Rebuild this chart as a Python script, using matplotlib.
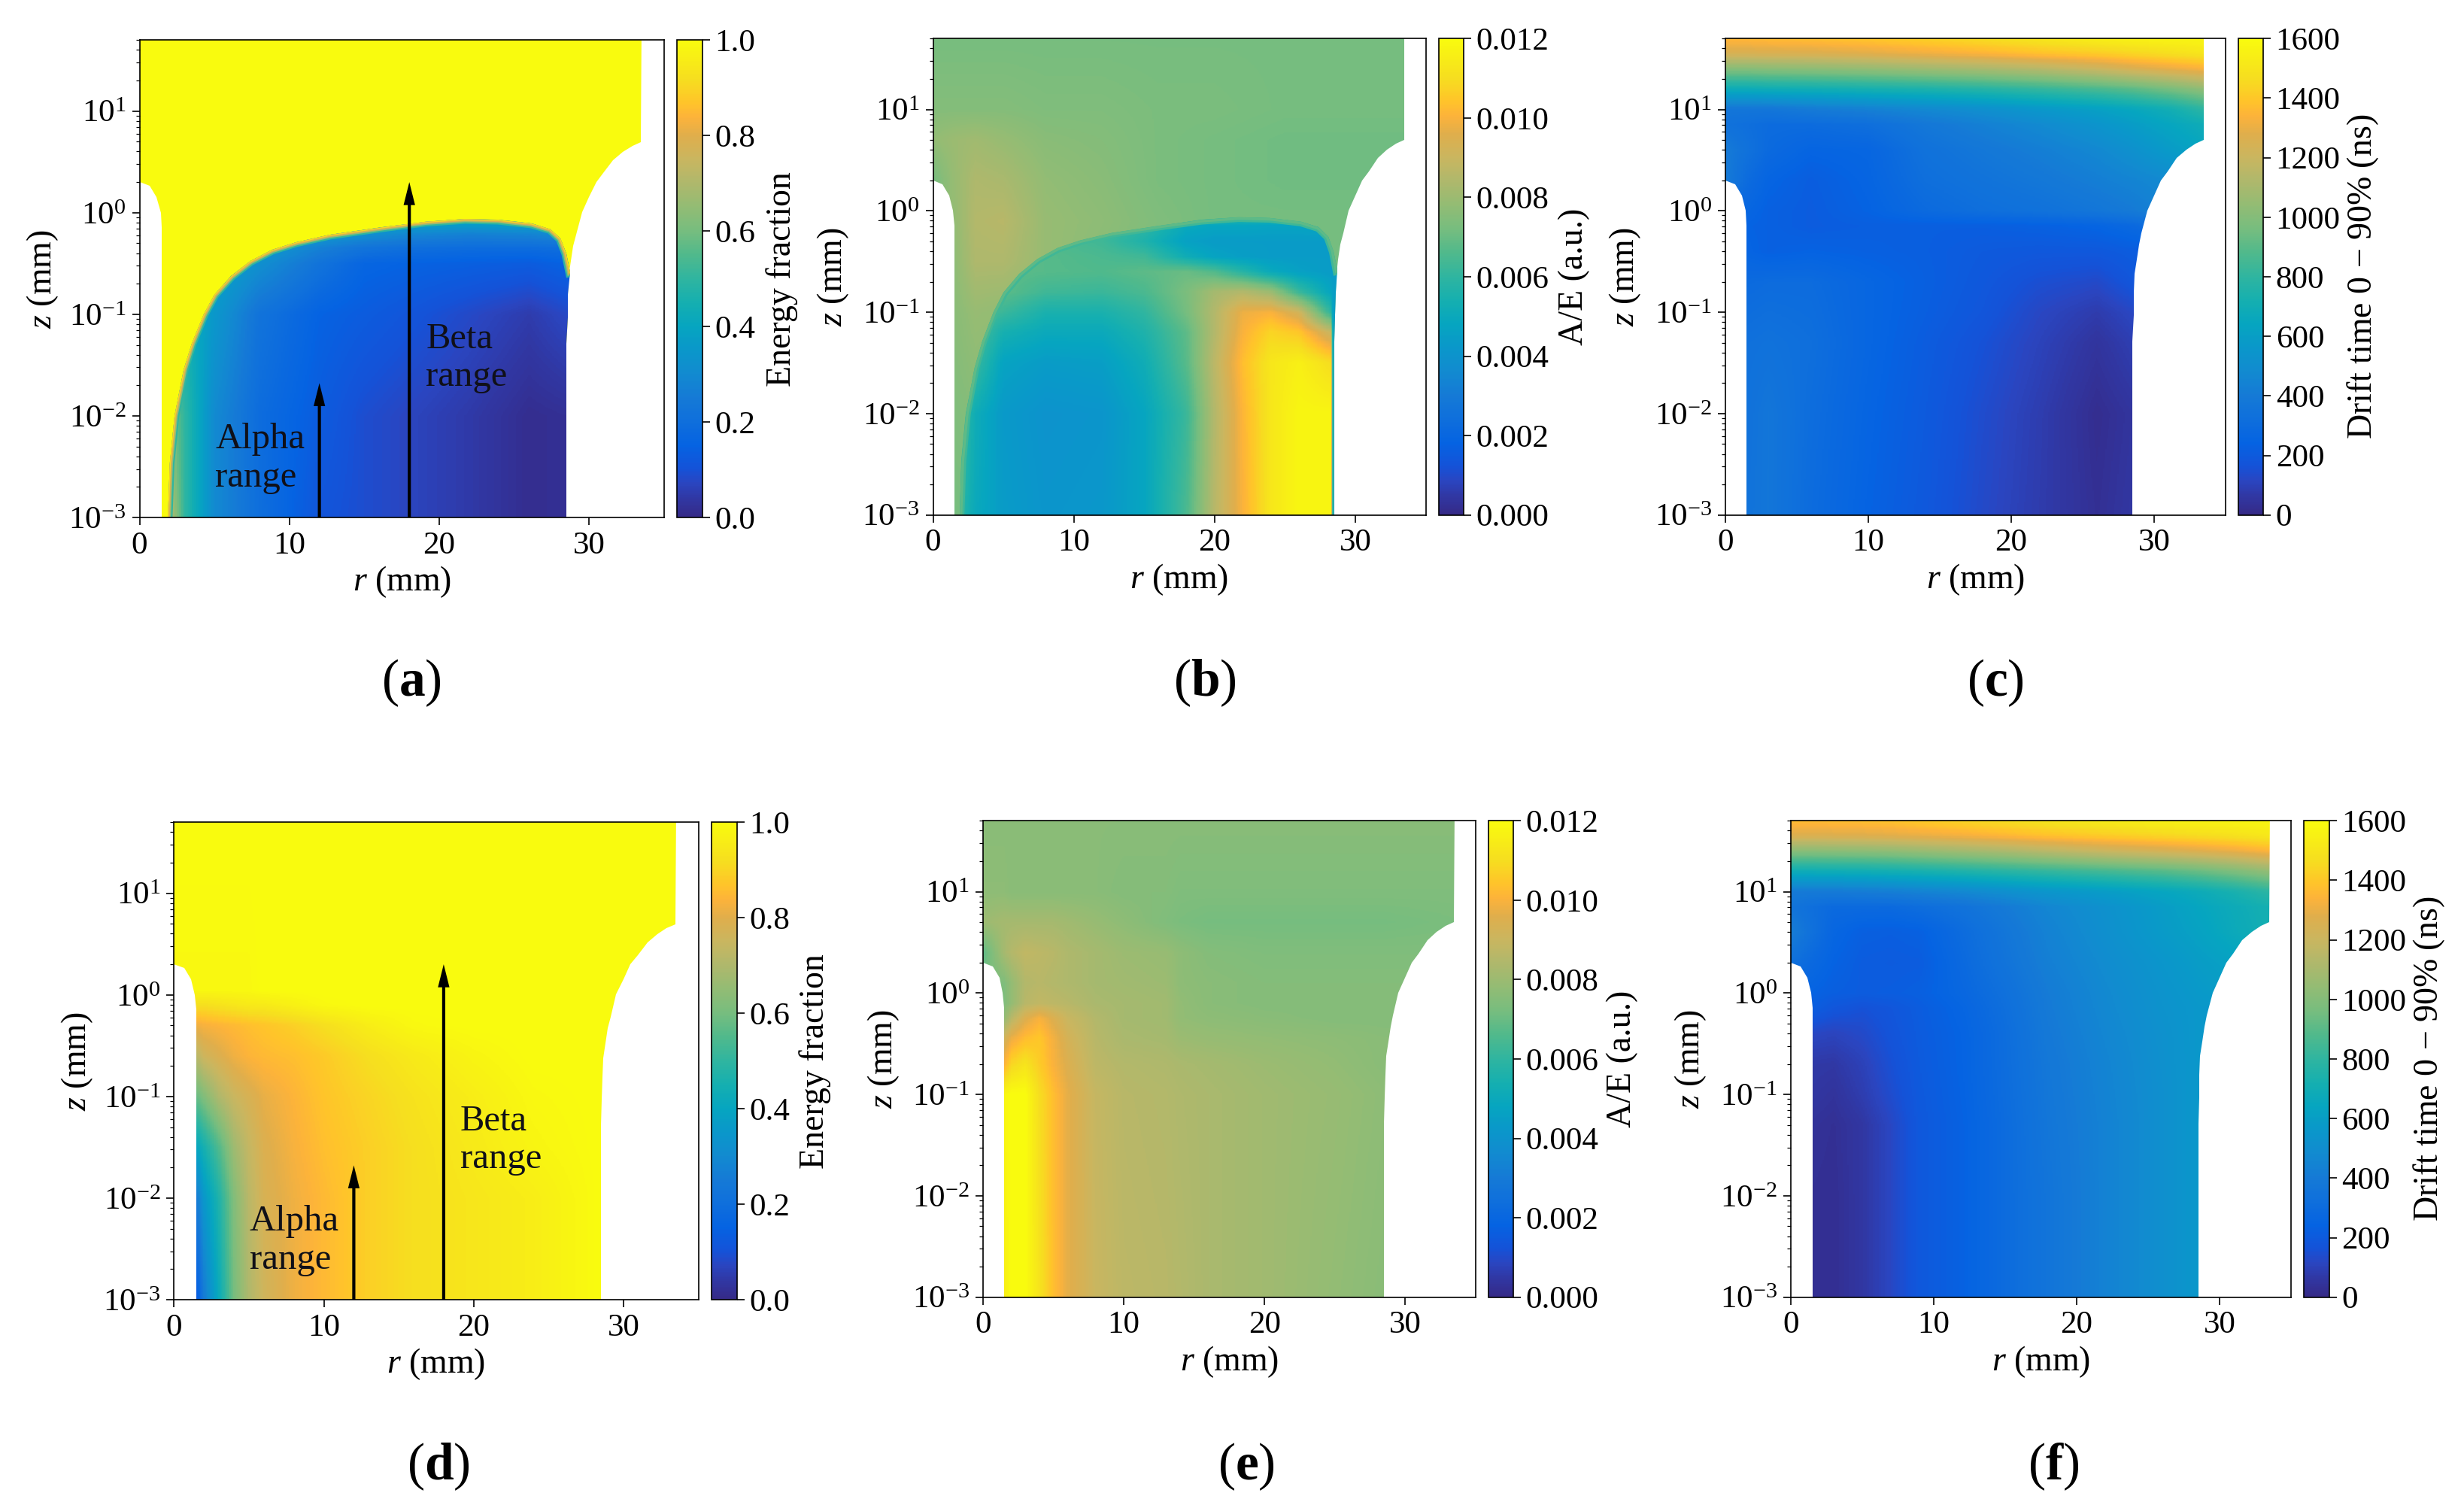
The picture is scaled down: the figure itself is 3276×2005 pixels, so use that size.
import matplotlib
matplotlib.use("Agg")
import matplotlib.pyplot as plt
import numpy as np
from matplotlib.cm import ScalarMappable
from matplotlib.colors import LinearSegmentedColormap, Normalize
from matplotlib.patches import Polygon
from matplotlib.ticker import FixedLocator, LogLocator, NullFormatter

plt.rcParams['font.family'] = ['Liberation Serif', 'DejaVu Serif']
plt.rcParams['mathtext.fontset'] = 'custom'
plt.rcParams['mathtext.rm'] = 'Liberation Serif'
plt.rcParams['mathtext.it'] = 'Liberation Serif:italic'
plt.rcParams['mathtext.bf'] = 'Liberation Serif:bold'

W, H = 3276, 2005

# colormap
cmap_vals = [0, .04, .07, .1, .15, .2, .25, .3, .35, .4, .45, .5, .55, .6, .65, .7, .75, .8, .84, .87, .92, 1]
cmap_cols = ['#352a87', '#3038a5', '#2a45c0', '#1552d8', '#0563e2', '#0f6fdc', '#157ad6', '#128ad0',
             '#0a97ca', '#06a5c0', '#15afb0', '#2fb5a0', '#50b98c', '#76bd7f', '#92bc74', '#aeb86c',
             '#c9b660', '#dfae4c', '#fdb33a', '#ffc42a', '#f6de1f', '#f9fb0e']
parula = LinearSegmentedColormap.from_list('parula_like', list(zip(cmap_vals, cmap_cols)))

# detector outline in (r, z)
shape_r = [1.5, 1.5, 1.41, 1.15, 0.67, 0, 0, 33.5, 33.46, 32.88, 32.24, 31.6, 30.96, 30.48, 30.0, 29.52,
           29.13, 28.94, 28.78, 28.65, 28.59, 28.56, 28.5, 28.5]
shape_z = [5e-4, 0.72, 1.0, 1.42, 1.83, 1.99, 70, 70, 4.98, 4.58, 3.99, 3.31, 2.46, 1.99, 1.42, 1.01,
           0.606, 0.47, 0.334, 0.238, 0.156, 0.093, 0.0515, 5e-4]

# sharp energy front of panels a and b
front_r = [1.85, 1.89, 2.02, 2.34, 2.95, 3.49, 4.29, 5.0, 6.12, 7.4, 8.85, 10.45, 12.7, 16.2, 19.1, 21.7,
           23.9, 26.15, 27.4, 28.08, 28.46, 28.72]
front_z = [5e-4, 1e-3, 0.0034, 0.01, 0.0284, 0.0515, 0.1, 0.156, 0.238, 0.334, 0.431, 0.511, 0.606, 0.718,
           0.815, 0.865, 0.851, 0.782, 0.688, 0.556, 0.396, 0.259]
front_end_r = [28.59, 28.56, 28.5, 28.5]
front_end_z = [0.156, 0.093, 0.0515, 5e-4]

# panel a
a_out_r = [0, 35]
a_out_logz = [-3.1, 2]
a_out = [[1, 1], [1, 1]]
a_r = [1.5, 3, 5, 8, 12, 15, 18, 22, 26, 28.7]
a_logz = [-3, -2, -1, -0.5, -0.35, -0.2, -0.05]
a_in = [[.85, .5, .3, .2, .11, .09, .07, .045, .012, .02],
        [.7, .5, .3, .19, .13, .09, .07, .045, .012, .02],
        [.5, .45, .35, .22, .15, .13, .11, .08, .05, .08],
        [.5, .45, .4, .32, .22, .16, .15, .14, .13, .15],
        [.5, .45, .42, .36, .27, .22, .2, .19, .19, .2],
        [.5, .45, .45, .42, .37, .33, .3, .28, .29, .32],
        [.5, .45, .45, .45, .45, .44, .44, .44, .45, .45]]
a_glow = [.5, .65, .78, .9]

# panel b
b_out_r = [0, 1.5, 3, 5, 8, 12, 16, 20, 25, 30, 33.5]
b_out_logz = [-3, -1, -0.5, -0.1, 0.3, 0.7, 1, 1.75]
b_out = [[.0072, .0072, .0072, .0072, .0072, .0072, .0072, .0072, .0072, .0072, .0072],
         [.0076, .0076, .0079, .0078, .0075, .0073, .0072, .0072, .0072, .0072, .0072],
         [.0077, .0077, .0084, .0084, .0079, .0076, .0073, .0072, .0072, .0072, .0072],
         [.0078, .0078, .0085, .0086, .0079, .0077, .0074, .0072, .0072, .0072, .0072],
         [.0072, .0079, .0084, .0083, .0078, .0076, .0073, .0072, .0071, .0071, .0071],
         [.0078, .0080, .0081, .0079, .0076, .0075, .0073, .0072, .0071, .0071, .0071],
         [.0075, .0075, .0075, .0075, .0074, .0074, .0073, .0073, .0072, .0072, .0072],
         [.0072, .0072, .0072, .0072, .0072, .0072, .0072, .0072, .0072, .0072, .0072]]
b_r = [1.5, 3, 5, 8, 12, 15, 18, 20, 22, 24, 26, 28.25, 28.45]
b_logz = [-3, -2, -1.5, -1.2, -1, -0.8, -0.6, -0.45, -0.3, -0.15, -0.05]
b_in = [[.0062, .0050, .0044, .0041, .0042, .0048, .0065, .0086, .0100, .0113, .0118, .0118, .0045],
        [.0068, .0052, .0043, .0040, .0041, .0048, .0062, .0085, .0101, .0113, .0118, .0118, .0045],
        [.0070, .0062, .0047, .0044, .0045, .0052, .0067, .0087, .0103, .0113, .0116, .0110, .0045],
        [.0070, .0066, .0054, .0050, .0050, .0056, .0068, .0085, .0100, .0108, .0105, .0090, .0045],
        [.0070, .0068, .0062, .0055, .0055, .0060, .0072, .0085, .0098, .0100, .0092, .0060, .0045],
        [.0070, .0070, .0068, .0063, .0062, .0065, .0073, .0082, .0085, .0080, .0062, .0048, .0045],
        [.0070, .0070, .0068, .0067, .0066, .0068, .0070, .0066, .0058, .0050, .0046, .0044, .0044],
        [.0070, .0070, .0068, .0067, .0065, .0063, .0052, .0047, .0045, .0044, .0044, .0044, .0044],
        [.0070, .0070, .0068, .0066, .0063, .0056, .0046, .0044, .0044, .0044, .0044, .0044, .0044],
        [.0070, .0070, .0068, .0066, .0064, .0060, .0050, .0048, .0048, .0047, .0047, .0048, .0048],
        [.0070, .0070, .0068, .0066, .0065, .0064, .0063, .0061, .0060, .0060, .0060, .0060, .0060]]
b_glow = [.0063, .0068]

# panel c
c_r = [0, 1.5, 3, 6, 10, 14, 18, 22, 26, 28.5, 31, 33.5]
c_logz = [-3, -2, -1.3, -1, -0.7, -0.4, -0.15, 0, 0.3, 0.6, 0.85, 1, 1.2, 1.4, 1.55, 1.75]
c_val = [[350, 350, 370, 300, 240, 190, 130, 80, 30, 60, 60, 60],
         [340, 340, 370, 310, 250, 200, 140, 85, 20, 50, 50, 50],
         [330, 330, 340, 320, 260, 210, 160, 105, 50, 90, 90, 90],
         [310, 310, 320, 310, 260, 220, 180, 120, 80, 120, 120, 120],
         [290, 290, 300, 300, 260, 225, 190, 150, 130, 180, 180, 180],
         [250, 250, 230, 240, 230, 220, 200, 190, 190, 210, 210, 210],
         [240, 240, 230, 210, 220, 220, 220, 230, 250, 280, 330, 380],
         [260, 260, 230, 210, 240, 290, 320, 340, 370, 400, 450, 480],
         [400, 300, 250, 215, 250, 320, 350, 380, 420, 450, 480, 520],
         [400, 340, 290, 250, 260, 340, 380, 420, 470, 520, 580, 640],
         [340, 320, 300, 300, 320, 380, 430, 480, 540, 590, 640, 690],
         [370, 370, 370, 400, 430, 470, 510, 560, 610, 650, 700, 790],
         [680, 680, 690, 700, 720, 740, 770, 810, 860, 900, 960, 1030],
         [1000, 1000, 1010, 1020, 1040, 1070, 1100, 1140, 1200, 1250, 1290, 1330],
         [1250, 1250, 1255, 1260, 1280, 1310, 1340, 1380, 1410, 1440, 1470, 1500],
         [1400, 1400, 1410, 1420, 1440, 1470, 1510, 1550, 1590, 1600, 1600, 1600]]

# panel d
d_r = [1.5, 2, 3, 4, 5, 6, 8, 10, 13, 16, 20, 24, 28.5]
d_logz = [-3, -2, -1.5, -1, -0.6, -0.3, -0.1, 0.05, 1.75]
d_val = [[.12, .25, .42, .6, .7, .76, .82, .85, .89, .92, .94, .96, 1],
         [.25, .35, .47, .62, .72, .78, .82, .85, .89, .92, .94, .96, 1],
         [.4, .45, .55, .67, .74, .79, .83, .86, .89, .92, .95, .98, 1],
         [.58, .62, .7, .75, .78, .81, .84, .87, .9, .93, .96, .99, 1],
         [.72, .76, .79, .82, .84, .85, .86, .88, .92, .95, .98, 1, 1],
         [.82, .83, .84, .85, .86, .87, .89, .92, .96, .99, 1, 1, 1],
         [.92, .92, .93, .94, .95, .95, .97, .99, 1, 1, 1, 1, 1],
         [.99, .99, .99, .99, .99, 1, 1, 1, 1, 1, 1, 1, 1],
         [1, 1, 1, 1, 1, 1, 1, 1, 1, 1, 1, 1, 1]]

# panel e
e_r = [0, 1.5, 2, 3, 4, 5, 6, 8, 10, 13, 14, 16, 20, 25, 28.5, 33.5]
e_logz = [-3, -1, -0.7, -0.45, -0.25, -0.1, 0.1, 0.4, 0.7, 1, 1.75]
e_val = [[.0115, .0115, .0120, .0120, .0112, .0103, .0097, .0090, .0087, .0086, .0085, .0083, .0081, .0078, .0076, .0076],
         [.0118, .0118, .0120, .0120, .0110, .0103, .0097, .0089, .0086, .0085, .0084, .0083, .0081, .0079, .0077, .0077],
         [.0100, .0100, .0108, .0112, .0106, .0100, .0095, .0087, .0085, .0084, .0083, .0082, .0080, .0078, .0076, .0076],
         [.0092, .0092, .0098, .0103, .0105, .0099, .0093, .0086, .0083, .0082, .0080, .0079, .0078, .0077, .0076, .0076],
         [.0078, .0078, .0086, .0095, .0100, .0095, .0090, .0085, .0082, .0081, .0078, .0077, .0076, .0075, .0075, .0075],
         [.0074, .0074, .0078, .0086, .0088, .0087, .0086, .0083, .0082, .0081, .0078, .0076, .0075, .0075, .0075, .0075],
         [.0072, .0074, .0078, .0085, .0086, .0085, .0084, .0082, .0081, .0080, .0077, .0076, .0075, .0075, .0075, .0075],
         [.0068, .0082, .0085, .0088, .0087, .0086, .0084, .0082, .0080, .0079, .0077, .0075, .0074, .0074, .0074, .0074],
         [.0080, .0082, .0082, .0082, .0082, .0082, .0081, .0079, .0077, .0074, .0073, .0072, .0072, .0072, .0072, .0073],
         [.0077, .0077, .0076, .0076, .0076, .0076, .0076, .0076, .0075, .0075, .0074, .0074, .0074, .0074, .0074, .0074],
         [.0076, .0076, .0076, .0076, .0076, .0076, .0076, .0076, .0076, .0076, .0076, .0076, .0076, .0076, .0076, .0076]]

# panel f
f_r = [0, 1.5, 3, 5, 7, 9, 12, 15, 18, 22, 26, 28.5, 31, 33.5]
f_logz = [-3, -2, -1.3, -1, -0.7, -0.4, -0.15, 0, 0.3, 0.6, 0.85, 1, 1.2, 1.4, 1.55, 1.75]
f_val = [[30, 30, 25, 60, 120, 190, 235, 300, 360, 440, 510, 560, 560, 560],
         [30, 30, 25, 60, 120, 190, 235, 300, 360, 440, 510, 560, 560, 560],
         [40, 40, 30, 60, 120, 190, 235, 300, 370, 440, 510, 560, 560, 560],
         [60, 60, 45, 85, 140, 195, 240, 305, 375, 445, 510, 560, 560, 560],
         [70, 70, 65, 100, 155, 200, 243, 308, 380, 450, 515, 560, 560, 560],
         [120, 120, 110, 130, 170, 205, 245, 310, 390, 460, 520, 560, 560, 560],
         [215, 215, 180, 160, 180, 210, 255, 320, 400, 470, 530, 560, 560, 560],
         [250, 240, 220, 210, 215, 225, 270, 330, 405, 475, 535, 570, 600, 620],
         [330, 280, 240, 210, 205, 210, 285, 355, 425, 490, 550, 590, 620, 660],
         [420, 330, 260, 225, 220, 230, 300, 370, 440, 510, 580, 620, 670, 710],
         [360, 320, 290, 290, 290, 310, 345, 400, 460, 520, 590, 640, 680, 720],
         [400, 400, 400, 410, 420, 440, 470, 510, 550, 590, 640, 680, 730, 790],
         [690, 690, 695, 700, 710, 725, 750, 780, 810, 850, 890, 930, 980, 1040],
         [1010, 1010, 1015, 1020, 1030, 1050, 1080, 1110, 1150, 1200, 1240, 1270, 1300, 1340],
         [1260, 1260, 1265, 1270, 1280, 1295, 1320, 1350, 1380, 1410, 1440, 1460, 1480, 1510],
         [1410, 1410, 1415, 1420, 1430, 1450, 1480, 1510, 1540, 1570, 1590, 1600, 1600, 1600]]

tick_z = [1e-3, 1e-2, 1e-1, 1e0, 1e1]
tick_r = [0, 10, 20, 30]
tick_energy = [0, .2, .4, .6, .8, 1.0]
tick_ae = [0, .002, .004, .006, .008, .010, .012]
tick_drift = [0, 200, 400, 600, 800, 1000, 1200, 1400, 1600]

FS = 31
LABEL_FS = 33
fine_r = np.linspace(0, 35, 420)
fine_logz = np.linspace(-3, 1.75, 560)


def fine_table(r, logz, table):
    # resample the read table so colours go through the colormap, not straight in rgb
    table = np.array(table, dtype=float)
    by_r = np.array([np.interp(fine_r, r, row) for row in table])
    return np.array([np.interp(fine_logz, logz, col) for col in by_r.T]).T


def px_axes(left, top, right, bottom):
    return plt.gcf().add_axes([left / W, 1 - bottom / H, (right - left) / W, (bottom - top) / H])


def layer(ax, r, logz, table, norm, clip):
    m = ax.pcolormesh(fine_r, 10 ** fine_logz, fine_table(r, logz, table), cmap=parula, norm=norm,
                      shading='nearest', antialiased=False)
    m.set_clip_path(clip)


def panel(box, cbox, vmax, cticks, cfmt, clabel, clabel_x, ylabel_x, caption, cap_x, cap_y):
    ax = px_axes(*box)
    ax.set_yscale('log')
    norm = Normalize(0, vmax)
    shape = Polygon(np.column_stack([shape_r, shape_z]), closed=True, transform=ax.transData)
    ax.set_xlim(0, 35)
    ax.set_ylim(1e-3, 50)
    ax.xaxis.set_major_locator(FixedLocator(tick_r))
    ax.yaxis.set_major_locator(FixedLocator(tick_z))
    ax.yaxis.set_minor_locator(LogLocator(base=10, subs=np.arange(2, 10), numticks=20))
    ax.yaxis.set_minor_formatter(NullFormatter())
    ax.tick_params(axis='both', which='major', labelsize=FS, length=7, width=1.2, pad=6)
    ax.tick_params(axis='y', which='minor', length=3.5, width=0.9)
    ax.set_xlabel(r'$r$ (mm)', fontsize=LABEL_FS, labelpad=4)
    ax.set_ylabel(r'$z$ (mm)', fontsize=LABEL_FS)
    # label coords give the right edge of the rotated text
    ax.yaxis.set_label_coords((ylabel_x + 24 - box[0]) / (box[2] - box[0]), 0.5)
    for s in ax.spines.values():
        s.set_linewidth(1.2)
        s.set_zorder(10)

    cax = px_axes(*cbox)
    cb = plt.gcf().colorbar(ScalarMappable(norm=norm, cmap=parula), cax=cax, ticks=cticks, format=cfmt)
    cb.ax.tick_params(labelsize=FS, length=7, width=1.2, pad=5)
    cb.outline.set_linewidth(1.2)
    plt.gcf().text(clabel_x / W, 1 - (box[1] + box[3]) / 2 / H, clabel, rotation=90, fontsize=LABEL_FS,
                   ha='center', va='center')
    plt.gcf().text(cap_x / W, 1 - cap_y / H, caption, fontsize=50, ha='center', va='center')
    return ax, norm, shape


def front_layer(ax, r, logz, table, norm, glow, widths):
    inner = Polygon(np.column_stack([front_r + front_end_r, front_z + front_end_z]), closed=True,
                    transform=ax.transData)
    layer(ax, r, logz, table, norm, inner)
    for v, lw in zip(glow, widths):
        line, = ax.plot(front_r, front_z, color=parula(norm(v)), lw=lw, solid_joinstyle='round')
        line.set_clip_path(inner)


def arrows(ax):
    for r_at, top in [(12, 0.021), (18, 2.0)]:
        ax.annotate('', xy=(r_at, top), xytext=(r_at, 1e-3), zorder=5,
                    arrowprops=dict(facecolor='k', edgecolor='k', width=3, headwidth=11, headlength=22,
                                    shrink=0, linewidth=0))
    ax.text(5.05, 10 ** -2.42, 'Alpha\nrange', fontsize=35, ha='left', va='center', linespacing=1.2, color='#101018')
    ax.text(19.1, 10 ** -1.43, 'Beta\nrange', fontsize=35, ha='left', va='center', linespacing=1.2, color='#101018')


fig = plt.figure(figsize=(W / 100, H / 100), dpi=100)
fig.patch.set_facecolor('white')

# a
ax, norm, shape = panel((185.5, 53.3, 883, 688), (900, 53.3, 933.5, 688), 1.0, tick_energy, '%.1f',
                        'Energy fraction', 1040, 56, r'($\mathbf{a}$)', 547, 908)
layer(ax, a_out_r, a_out_logz, a_out, norm, shape)
front_layer(ax, a_r, a_logz, a_in, norm, a_glow, [9, 6, 4, 2])
arrows(ax)

# b
ax, norm, shape = panel((1240.6, 51.3, 1895.5, 684.7), (1912.8, 51.3, 1946, 684.7), 0.012, tick_ae, '%.3f',
                        'A/E (a.u.)', 2093, 1107, r'($\mathbf{b}$)', 1602, 908)
layer(ax, b_out_r, b_out_logz, b_out, norm, shape)
front_layer(ax, b_r, b_logz, b_in, norm, b_glow, [9, 5])

# c
ax, norm, shape = panel((2293.8, 51.3, 2959, 684.7), (2976, 51.3, 3009, 684.7), 1600, tick_drift, '%d',
                        r'Drift time 0 $-$ 90% (ns)', 3142, 2160, r'($\mathbf{c}$)', 2653, 908)
layer(ax, c_r, c_logz, c_val, norm, shape)

# d
ax, norm, shape = panel((231.4, 1093.3, 928.5, 1728), (945.7, 1093.3, 979.5, 1728), 1.0, tick_energy, '%.1f',
                        'Energy fraction', 1084, 102, r'($\mathbf{d}$)', 583, 1950)
layer(ax, d_r, d_logz, d_val, norm, shape)
arrows(ax)

# e
ax, norm, shape = panel((1307, 1091.3, 1962, 1724.7), (1979.3, 1091.3, 2012, 1724.7), 0.012, tick_ae, '%.3f',
                        'A/E (a.u.)', 2157, 1174, r'($\mathbf{e}$)', 1657, 1950)
layer(ax, e_r, e_logz, e_val, norm, shape)

# f
ax, norm, shape = panel((2381, 1091.3, 3046, 1724.7), (3063, 1091.3, 3096.5, 1724.7), 1600, tick_drift, '%d',
                        r'Drift time 0 $-$ 90% (ns)', 3230, 2247, r'($\mathbf{f}$)', 2730, 1950)
layer(ax, f_r, f_logz, f_val, norm, shape)

fig.savefig('out.png', dpi=100)
